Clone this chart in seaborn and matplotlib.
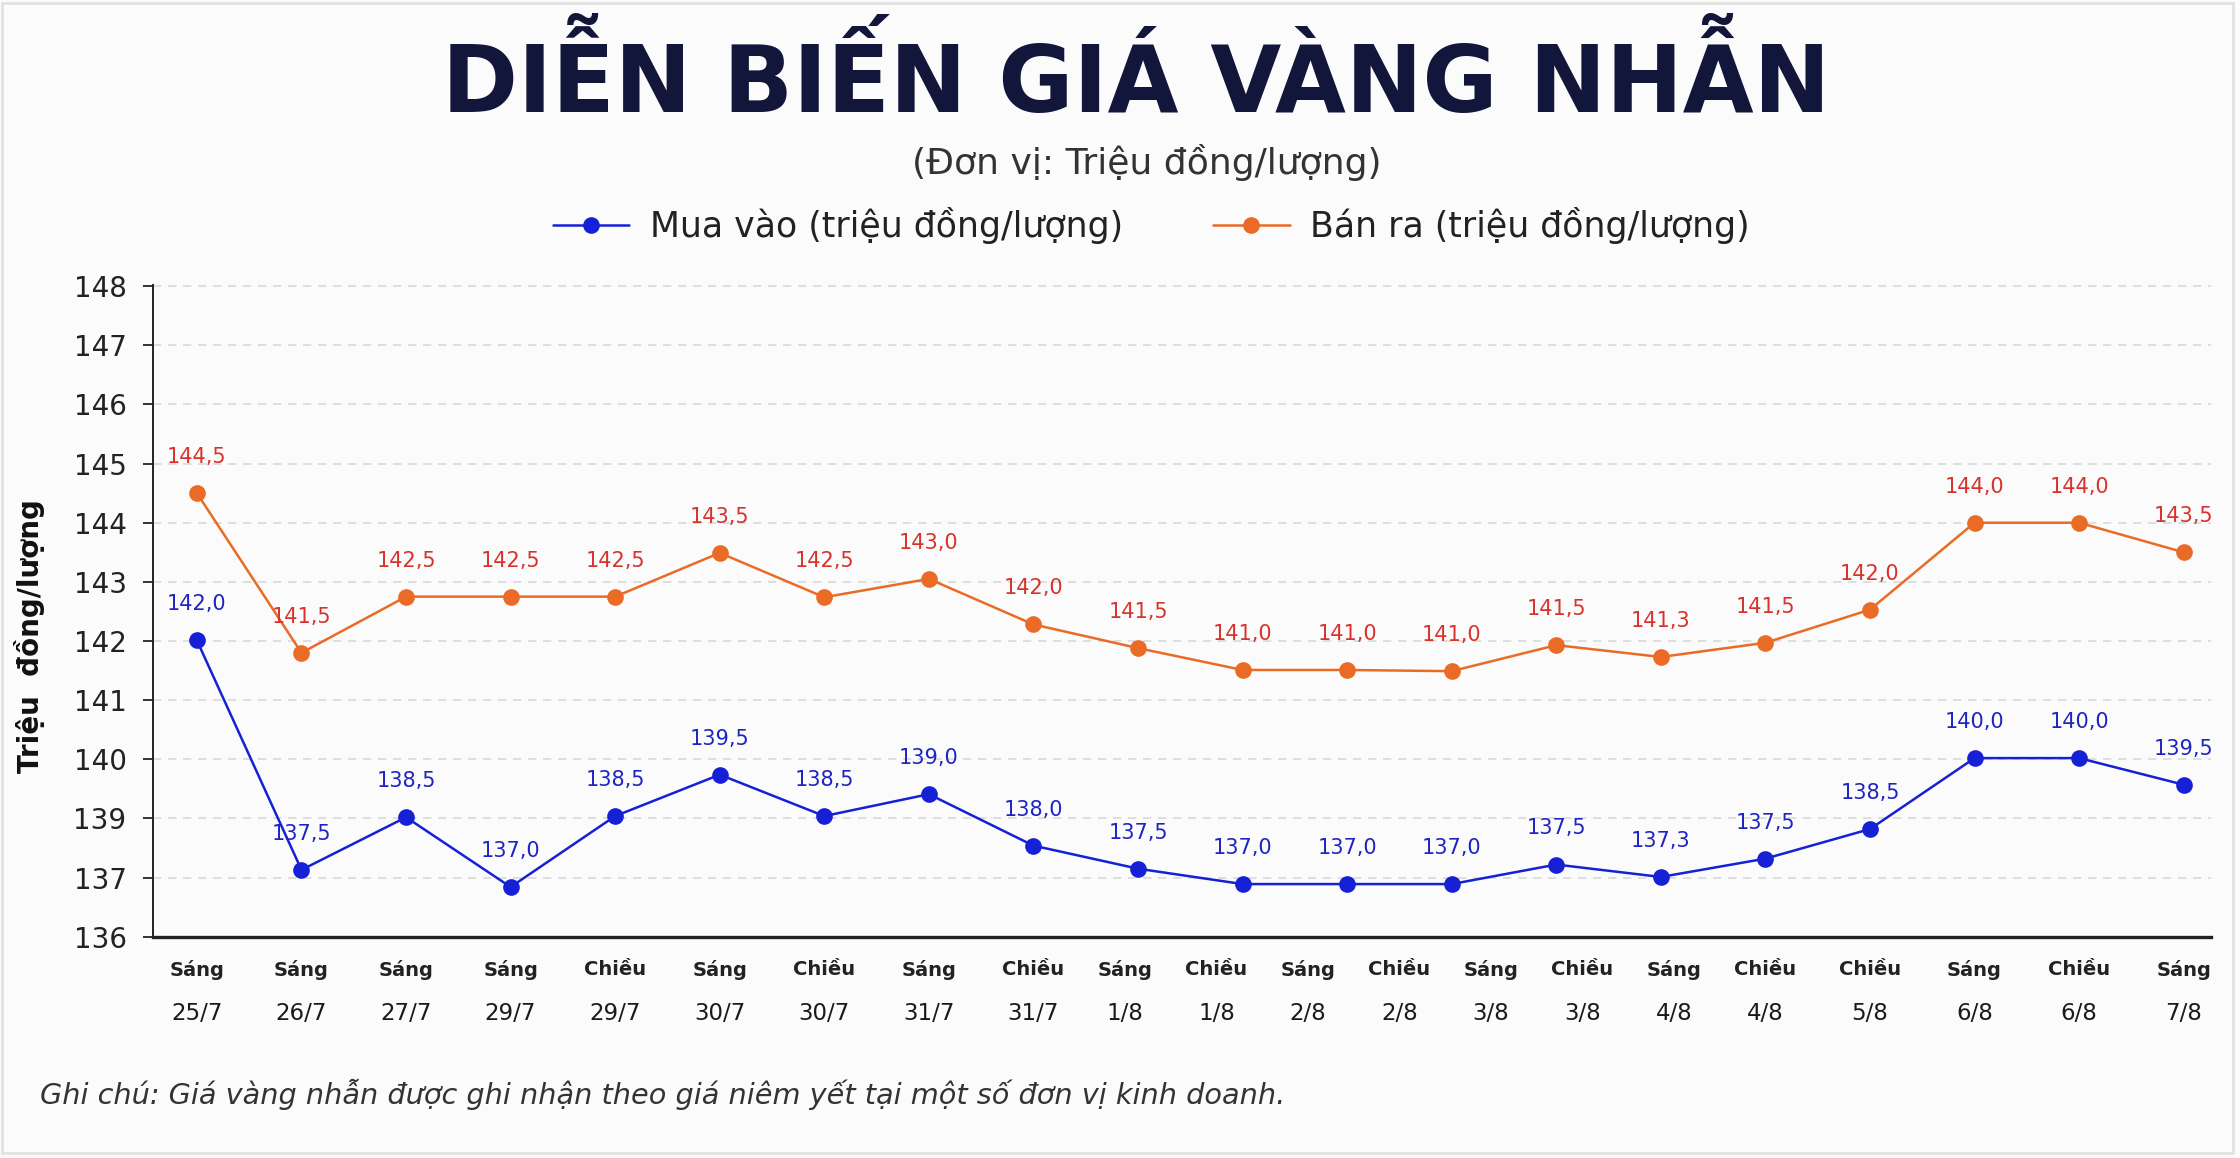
import numpy as np
import pandas as pd
import matplotlib
matplotlib.use("Agg")
import matplotlib.pyplot as plt
from matplotlib.lines import Line2D
from matplotlib.patches import Rectangle
import seaborn as sns


# printed y-axis labels (the original axis skips 138)
y_tick_labels = ["136", "137", "139", "140", "141", "142", "143", "144", "145", "146", "147", "148"]

# 21 session labels printed under the 20 plotted points
x_session = ["Sáng", "Sáng", "Sáng", "Sáng", "Chiều", "Sáng", "Chiều", "Sáng", "Chiều", "Sáng", "Chiều",
             "Sáng", "Chiều", "Sáng", "Chiều", "Sáng", "Chiều", "Chiều", "Sáng", "Chiều", "Sáng"]
x_date = ["25/7", "26/7", "27/7", "29/7", "29/7", "30/7", "30/7", "31/7", "31/7", "1/8", "1/8",
          "2/8", "2/8", "3/8", "3/8", "4/8", "4/8", "5/8", "6/8", "6/8", "7/8"]

# values written next to each dot
buy_labels = [142.0, 137.5, 138.5, 137.0, 138.5, 139.5, 138.5, 139.0, 138.0, 137.5,
              137.0, 137.0, 137.0, 137.5, 137.3, 137.5, 138.5, 140.0, 140.0, 139.5]
sell_labels = [144.5, 141.5, 142.5, 142.5, 142.5, 143.5, 142.5, 143.0, 142.0, 141.5,
               141.0, 141.0, 141.0, 141.5, 141.3, 141.5, 142.0, 144.0, 144.0, 143.5]

# dot heights as drawn, read against the printed axis (in tick steps, 0 = "136")
buy_drawn = [5.01, 1.13, 2.02, 0.84, 2.04, 2.74, 2.04, 2.41, 1.54, 1.15,
             0.89, 0.89, 0.89, 1.22, 1.01, 1.32, 1.82, 3.02, 3.02, 2.57]
sell_drawn = [7.50, 4.80, 5.75, 5.75, 5.75, 6.49, 5.74, 6.05, 5.28, 4.88,
              4.51, 4.51, 4.49, 4.93, 4.73, 4.97, 5.53, 7.00, 7.00, 6.50]

buy_name = "Mua vào (triệu đồng/lượng)"
sell_name = "Bán ra (triệu đồng/lượng)"

BLUE = "#1620d4"
ORANGE = "#ea6b25"
BLUE_TXT = "#1e24c2"
RED_TXT = "#d7322b"
BG = "#fbfbfb"

sns.set_theme(style="white")
plt.rcParams["font.family"] = ["DejaVu Sans"]

n = len(buy_drawn)
df = pd.DataFrame({
    "x": list(range(n)) * 2,
    "y": buy_drawn + sell_drawn,
    "series": [buy_name] * n + [sell_name] * n,
})

fig = plt.figure(figsize=(22.4, 11.58), dpi=100, facecolor=BG)
ax = fig.add_axes([0.0683, 0.1911, 0.9187, 0.5628])
ax.set_facecolor(BG)

sns.lineplot(data=df, x="x", y="y", hue="series",
             palette={buy_name: BLUE, sell_name: ORANGE},
             marker="o", markersize=12, markeredgewidth=0, linewidth=1.8,
             legend=False, ax=ax, zorder=3)

# value labels above the dots
for xi, (yb, vb, ys, vs) in enumerate(zip(buy_drawn, buy_labels, sell_drawn, sell_labels)):
    ax.annotate(f"{vb:.1f}".replace(".", ","), (xi, yb), xytext=(0, 26), textcoords="offset points",
                ha="center", va="center", fontsize=15, color=BLUE_TXT)
    ax.annotate(f"{vs:.1f}".replace(".", ","), (xi, ys), xytext=(0, 26), textcoords="offset points",
                ha="center", va="center", fontsize=15, color=RED_TXT)

# axes
ax.set_ylim(0, 11.02)
ax.set_xlim(-0.42, 19.26)
ax.set_yticks(range(len(y_tick_labels)))
ax.set_yticklabels(y_tick_labels, fontsize=20, color="#222222")
ax.tick_params(axis="y", length=7, width=1.3, color="#222222", pad=12, left=True)
ax.yaxis.grid(True, linestyle=(0, (5, 4)), color="#d9d9d9", linewidth=1.2)
ax.xaxis.grid(False)

# tick labels: middle sessions are squeezed, as in the original
x_tick_pos = np.r_[np.arange(0, 9), np.linspace(8, 15, 9)[1:-1], np.arange(15, 20)]
ax.set_xticks(x_tick_pos)
ax.set_xticklabels(x_session, fontsize=14, fontweight="bold", color="#222222")
ax.tick_params(axis="x", length=0, pad=17)
for p, d in zip(x_tick_pos, x_date):
    ax.text(p, -0.118, d, transform=ax.get_xaxis_transform(), ha="center", va="center",
            fontsize=16.5, color="#1a1a1a")
ax.set_xlabel("")
ax.set_ylabel("")

for s in ["top", "right"]:
    ax.spines[s].set_visible(False)
ax.spines["left"].set_color("#222222")
ax.spines["left"].set_linewidth(1.4)
ax.spines["bottom"].set_color("#222222")
ax.spines["bottom"].set_linewidth(2.4)

# titles and notes
fig.text(0.507, 1 - 112 / 1158, "DIỄN BIẾN GIÁ VÀNG NHẪN", ha="center", va="baseline",
         fontsize=66, fontweight="heavy", color="#11163a")
fig.text(0.512, 1 - 174 / 1158, "(Đơn vị: Triệu đồng/lượng)", ha="center", va="baseline",
         fontsize=26, color="#333333")
fig.text(0.013, 0.451, "Triệu  đồng/lượng", rotation=90, ha="center", va="center",
         fontsize=20, fontweight="bold", color="#111111")
fig.text(0.018, 1 - 1104 / 1158, "Ghi chú: Giá vàng nhẫn được ghi nhận theo giá niêm yết tại một số đơn vị kinh doanh.",
         ha="left", va="baseline", fontsize=20.7, style="italic", color="#333333")

handles = [
    Line2D([], [], color=BLUE, marker="o", markersize=12, markeredgewidth=0, linewidth=1.8),
    Line2D([], [], color=ORANGE, marker="o", markersize=12, markeredgewidth=0, linewidth=1.8),
]
fig.legend(handles, [buy_name, sell_name], loc="center", bbox_to_anchor=(0.514, 1 - 226 / 1158),
           ncol=2, frameon=False, fontsize=25, handlelength=2.2, columnspacing=2.6,
           handletextpad=0.6, labelcolor="#222222")

# faint frame around the card
fig.patches.append(Rectangle((0.001, 0.004), 0.996, 0.993, transform=fig.transFigure,
                             fill=False, edgecolor="#e2e2e2", linewidth=2))

fig.savefig("out.png", dpi=100, facecolor=BG)
